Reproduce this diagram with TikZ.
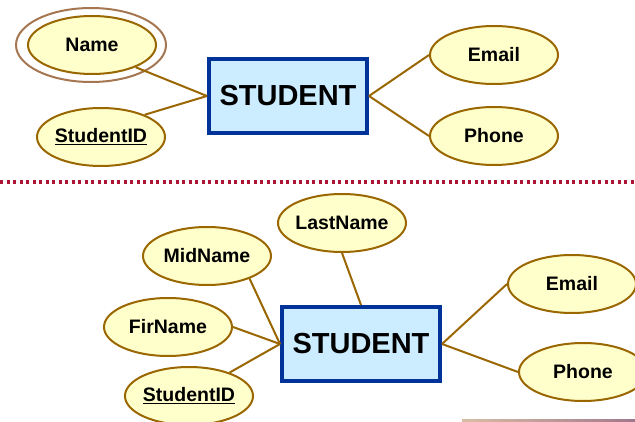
\documentclass[tikz,border=0pt]{standalone}
\usepackage{fontspec}
\setmainfont{Liberation Sans}
\usepackage{tikz}
\usetikzlibrary{shapes.geometric, arrows}
\definecolor{attrline}{RGB}{153,102,0}
\definecolor{attrfill}{RGB}{255,255,204}
\definecolor{entline}{RGB}{0,51,153}
\definecolor{entfill}{RGB}{204,236,255}
\definecolor{multiline}{RGB}{166,118,80}
\definecolor{sepline}{RGB}{172,22,52}
\tikzstyle{entity} = [rectangle, minimum width=158pt, minimum height=74pt, inner sep=0pt, text centered, draw=entline, fill=entfill, line width=4pt, font=\fontsize{29}{30}\selectfont\bfseries]
\tikzstyle{attribute} = [ellipse, minimum width=128pt, minimum height=58pt, inner xsep=-10pt, inner ysep=0pt, text centered, draw=attrline, fill=attrfill, line width=2pt, font=\fontsize{19.5}{20}\selectfont\bfseries]
\tikzstyle{multi} = [ellipse, minimum width=150pt, minimum height=74pt, draw=multiline, line width=2pt]
\tikzstyle{link} = [line width=2pt, draw=attrline]

\begin{document}
\begin{tikzpicture}[x=1pt, y=-1pt]
                \useasboundingbox (0,0) rectangle (635,422);

% ---------------------------------------------
% Upper diagram
% ---------------------------------------------
                \node (name_outer) [multi] at (91,45) {};
                \node (name) [attribute] at (92,45) {Name};
                \node (student_id) [attribute] at (101,137) {\underline{StudentID}};
                \node (student) [entity] at (288,96) {STUDENT};
                \node (email) [attribute] at (494,55) {Email};
                \node (phone) [attribute] at (494,136) {Phone};

                %  links of the upper diagram
                \draw [link] (name.-27) -- (student.west);
                \draw [link] (student_id.27) -- (student.west);
                \draw [link] (student.east) -- (email.west);
                \draw [link] (student.east) -- (phone.west);

% ---------------------------------------------
% Separator
% ---------------------------------------------
                \draw [sepline, line width=3.2pt, dash pattern=on 3.2pt off 3.3pt] (0,182) -- (635,182);

% ---------------------------------------------
% Lower diagram
% ---------------------------------------------
                \node (last_name) [attribute] at (342,223) {LastName};
                \node (mid_name) [attribute] at (207,256) {MidName};
                \node (fir_name) [attribute] at (168,327) {FirName};
                \node (student_id_low) [attribute] at (189,396) {\underline{StudentID}};
                \node (student_low) [entity] at (361,344) {STUDENT};
                \node (email_low) [attribute] at (572,284) {Email};
                \node (phone_low) [attribute] at (583,372) {Phone};

                %  links of the lower diagram
                \draw [link] (last_name.south) -- (student_low.north);
                \draw [link] (mid_name.-28) -- (student_low.west);
                \draw [link] (fir_name.east) -- (student_low.west);
                \draw [link] (student_id_low.30) -- (student_low.west);
                \draw [link] (student_low.east) -- (email_low.west);
                \draw [link] (student_low.east) -- (phone_low.west);

                \shade [left color={rgb,255:red,217;green,190;blue,165}, right color={rgb,255:red,160;green,120;blue,140}] (462,419) rectangle (635,422);
\end{tikzpicture}
\end{document}
